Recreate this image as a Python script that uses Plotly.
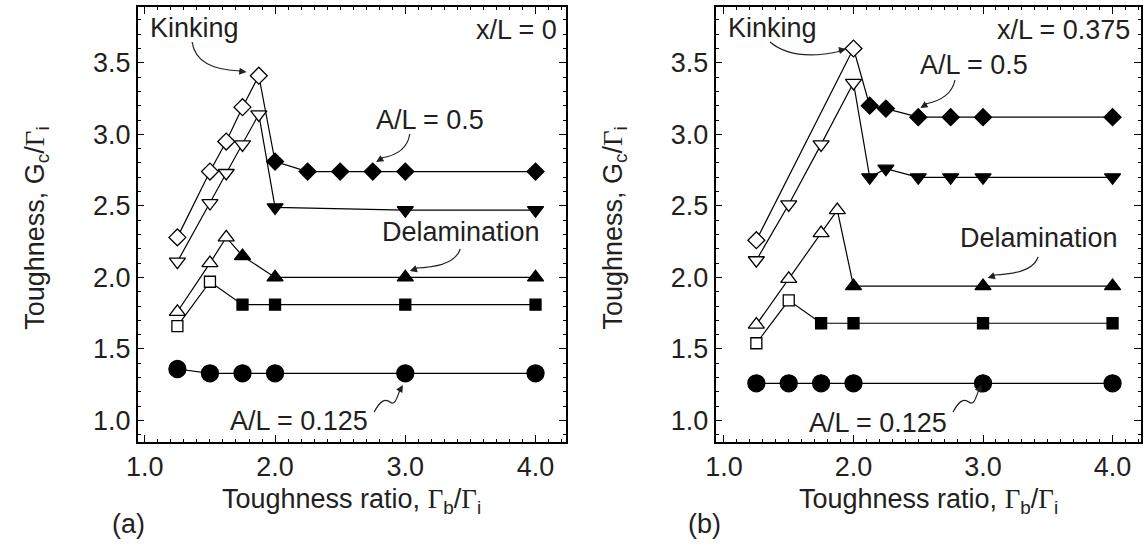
import plotly.graph_objects as go

W, H = 1145, 546
FONT = "Liberation Sans, Arial, Helvetica, sans-serif"
TXT = "#231f20"

# ---- panel (a): x/L = 0 ----
a_dia_x = [1.25, 1.5, 1.625, 1.75, 1.875, 2.0, 2.25, 2.5, 2.75, 3.0, 4.0]
a_dia_y = [2.28, 2.74, 2.95, 3.19, 3.41, 2.81, 2.74, 2.74, 2.74, 2.74, 2.74]
a_dia_open = [1, 1, 1, 1, 1, 0, 0, 0, 0, 0, 0]

a_tdn_x = [1.25, 1.5, 1.625, 1.75, 1.875, 2.0, 3.0, 4.0]
a_tdn_y = [2.11, 2.52, 2.73, 2.93, 3.14, 2.49, 2.47, 2.47]
a_tdn_open = [1, 1, 1, 1, 1, 0, 0, 0]

a_tup_x = [1.25, 1.5, 1.625, 1.75, 2.0, 3.0, 4.0]
a_tup_y = [1.76, 2.10, 2.28, 2.15, 2.00, 2.00, 2.00]
a_tup_open = [1, 1, 1, 0, 0, 0, 0]

a_sq_x = [1.25, 1.5, 1.75, 2.0, 3.0, 4.0]
a_sq_y = [1.66, 1.97, 1.81, 1.81, 1.81, 1.81]
a_sq_open = [1, 1, 0, 0, 0, 0]

a_ci_x = [1.25, 1.5, 1.75, 2.0, 3.0, 4.0]
a_ci_y = [1.36, 1.33, 1.33, 1.33, 1.33, 1.33]
a_ci_open = [0, 0, 0, 0, 0, 0]

# ---- panel (b): x/L = 0.375 ----
b_dia_x = [1.25, 2.0, 2.125, 2.25, 2.5, 2.75, 3.0, 4.0]
b_dia_y = [2.26, 3.60, 3.20, 3.18, 3.12, 3.12, 3.12, 3.12]
b_dia_open = [1, 1, 0, 0, 0, 0, 0, 0]

b_tdn_x = [1.25, 1.5, 1.75, 2.0, 2.125, 2.25, 2.5, 2.75, 3.0, 4.0]
b_tdn_y = [2.12, 2.51, 2.93, 3.36, 2.70, 2.76, 2.70, 2.70, 2.70, 2.70]
b_tdn_open = [1, 1, 1, 1, 0, 0, 0, 0, 0, 0]

b_tup_x = [1.25, 1.5, 1.75, 1.875, 2.0, 3.0, 4.0]
b_tup_y = [1.67, 1.99, 2.31, 2.47, 1.94, 1.94, 1.94]
b_tup_open = [1, 1, 1, 1, 0, 0, 0]

b_sq_x = [1.25, 1.5, 1.75, 2.0, 3.0, 4.0]
b_sq_y = [1.54, 1.84, 1.68, 1.68, 1.68, 1.68]
b_sq_open = [1, 1, 0, 0, 0, 0]

b_ci_x = [1.25, 1.5, 1.75, 2.0, 3.0, 4.0]
b_ci_y = [1.26, 1.26, 1.26, 1.26, 1.26, 1.26]
b_ci_open = [0, 0, 0, 0, 0, 0]

x_ticks = [1.0, 2.0, 3.0, 4.0]
x_ticktext = ["1.0", "2.0", "3.0", "4.0"]

SYMBOLS = {"dia": ("diamond", 13), "tdn": ("triangle-down", 14),
           "tup": ("triangle-up", 14), "sq": ("square", 11), "ci": ("circle", 17)}

fig = go.Figure()


def add_series(x, y, flags, kind, xa, ya):
    sym, size = SYMBOLS[kind]
    fig.add_trace(go.Scatter(
        x=x, y=y, mode="lines+markers", xaxis=xa, yaxis=ya, showlegend=False,
        line=dict(color="black", width=1.2),
        marker=dict(symbol=sym, size=size,
                    color=["white" if f else "black" for f in flags],
                    line=dict(color="black", width=1.3)),
        cliponaxis=False,
    ))


for name in ["ci", "sq", "tup", "tdn", "dia"]:
    g = globals()
    add_series(g[f"a_{name}_x"], g[f"a_{name}_y"], g[f"a_{name}_open"], name, "x", "y")
    add_series(g[f"b_{name}_x"], g[f"b_{name}_y"], g[f"b_{name}_open"], name, "x2", "y2")


def px(x):
    return x / W


def py(y):
    return 1 - y / H


def axis_common():
    return dict(showline=True, linecolor="black", linewidth=1.5, mirror="allticks",
                ticks="inside", ticklen=7, tickwidth=1.3, tickcolor="black",
                showgrid=False, zeroline=False,
                tickfont=dict(family=FONT, size=27, color=TXT),
                minor=dict(ticks="inside", ticklen=3.5, tickwidth=1, tickcolor="black",
                           showgrid=False, dtick=0.1))


xa = axis_common()
xa.update(domain=[px(127), px(560)], range=[0.945, 4.235], tickvals=x_ticks,
          ticktext=x_ticktext, anchor="y")
xb = axis_common()
xb.update(domain=[px(711), px(1141)], range=[0.935, 4.22], tickvals=x_ticks,
          ticktext=x_ticktext, anchor="y2")
ya = axis_common()
ya.update(domain=[py(442), py(7)], range=[0.85, 3.89], dtick=0.5, tick0=0,
          tickformat=".1f", anchor="x")
yb = axis_common()
yb.update(domain=[py(442), py(7)], range=[0.85, 3.89], dtick=0.5, tick0=0,
          tickformat=".1f", anchor="x2")

GAM = '<span style="font-family:Liberation Serif, Times New Roman, serif">Γ</span>'

annotations = []
shapes = []


def text(x, y, s, anchor="left", size=27, angle=0):
    annotations.append(dict(x=px(x), y=py(y), xref="paper", yref="paper", text=s,
                            showarrow=False, xanchor=anchor, yanchor="middle",
                            textangle=angle,
                            font=dict(family=FONT, size=size, color=TXT)))


def curve(d, tip, tail):
    shapes.append(dict(type="path", xref="paper", yref="paper", path=d,
                       line=dict(color=TXT, width=1.2)))
    annotations.append(dict(x=px(tip[0]), y=py(tip[1]), xref="paper", yref="paper",
                            text="", showarrow=True, arrowhead=2, arrowsize=1.2,
                            arrowwidth=1.2, arrowcolor=TXT,
                            ax=tail[0], ay=tail[1], standoff=0))


def P(*pts):
    return " ".join(f"{px(x):.5f},{py(y):.5f}" for x, y in pts)


# panel (a) labels
text(137, 28, "Kinking")
curve("M" + P((182, 42)) + " Q" + P((186, 70), (232, 71)), (237, 72), (-9, -1))
text(553, 30, "x/L = 0", anchor="right")
text(422, 120, "A/L = 0.5", anchor="center")
curve("M" + P((402, 134)) + " Q" + P((399, 154), (373, 158)), (368, 162), (8, -5))
text(454, 232, "Delamination", anchor="center")
curve("M" + P((453, 249)) + " Q" + P((447, 267), (408, 268)), (402, 271), (9, -3))
text(290, 421, "A/L = 0.125", anchor="center")
curve("M" + P((366, 412)) + " C" + P((372, 401), (377, 398), (382, 402))
      + " C" + P((387, 406), (389, 398), (392, 390)), (395, 385), (-4, 7))

# panel (b) labels
text(722, 28, "Kinking")
curve("M" + P((766, 42)) + " Q" + P((790, 62), (838, 51)), (843, 49), (-9, 2))
text(1132, 30, "x/L = 0.375", anchor="right")
text(972, 65, "A/L = 0.5", anchor="center")
curve("M" + P((953, 80)) + " Q" + P((949, 99), (923, 104)), (918, 108), (8, -5))
text(1038, 238, "Delamination", anchor="center")
curve("M" + P((1037, 257)) + " Q" + P((1031, 274), (992, 275)), (986, 278), (9, -3))
text(875, 423, "A/L = 0.125", anchor="center")
curve("M" + P((951, 412)) + " C" + P((957, 401), (962, 398), (967, 402))
      + " C" + P((972, 406), (974, 398), (977, 390)), (980, 385), (-4, 7))

# axis titles and panel tags
xtitle = f"Toughness ratio, {GAM}<sub>b</sub>/{GAM}<sub>i</sub>"
ytitle = f"Toughness, G<sub>c</sub>/{GAM}<sub>i</sub>"
text(343, 501, xtitle, anchor="center")
text(926, 501, xtitle, anchor="center")
text(25, 228, ytitle, anchor="center", angle=-90)
text(609, 228, ytitle, anchor="center", angle=-90)
text(118, 524, "(a)", anchor="center")
text(700, 524, "(b)", anchor="center")

fig.update_layout(
    width=W, height=H, margin=dict(l=0, r=0, t=0, b=0),
    paper_bgcolor="white", plot_bgcolor="white",
    xaxis=xa, yaxis=ya, xaxis2=xb, yaxis2=yb,
    annotations=annotations, shapes=shapes,
    font=dict(family=FONT, color=TXT),
)

fig.write_html("out.html")
